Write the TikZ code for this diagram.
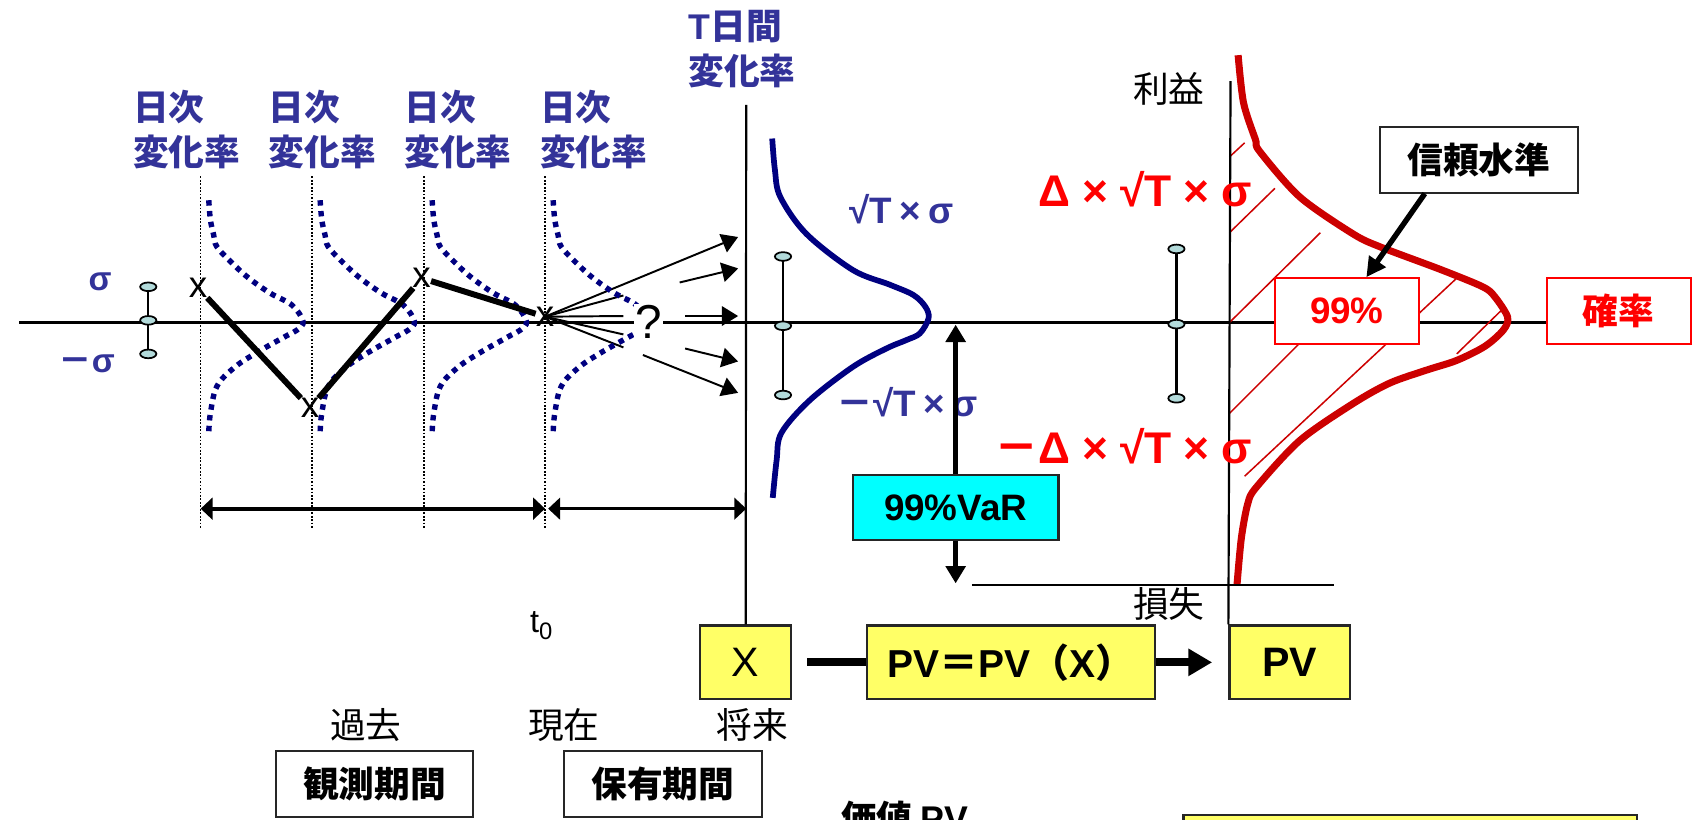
\documentclass[tikz,border=0pt]{standalone}
\usepackage{fontspec}
\setmainfont{Liberation Sans}
\newfontfamily\lat{Liberation Sans}
\newfontfamily\jp{Noto Sans CJK JP}
\usetikzlibrary{arrows.meta}

\definecolor{lblblue}{RGB}{51,51,153}
\definecolor{bellnavy}{RGB}{0,0,128}
\definecolor{bellred}{RGB}{204,0,0}
\definecolor{boxyellow}{RGB}{255,255,102}
\definecolor{boxcyan}{RGB}{0,255,255}
\definecolor{dotfill}{RGB}{178,218,218}

\newcommand{\sz}[1]{\fontsize{#1}{#1}\selectfont}
\newcommand{\tms}[1][7pt]{\hspace{#1}×\hspace{#1}}

\tikzset{
  vdot/.style={black, line width=1.3pt, dash pattern=on 1.6pt off 1.6pt},
  vline/.style={black, line width=2pt},
  dotbell/.style={bellnavy, line width=5pt, dash pattern=on 5pt off 5pt},
  bell/.style={bellnavy, line width=5.3pt},
  redbell/.style={bellred, line width=6.5pt, line join=round},
  hatch/.style={bellred, line width=1.4pt},
  zig/.style={black, line width=5.5pt},
  fanline/.style={black, line width=1.8pt},
  fan/.style={fanline, -{Triangle[length=15pt,width=18pt]}},
  dblthick/.style={black, line width=4pt, {Triangle[length=11pt,width=20pt]}-{Triangle[length=11pt,width=20pt]}},
  dblthin/.style={black, line width=2.2pt, {Triangle[length=11pt,width=20pt]}-{Triangle[length=11pt,width=20pt]}},
  vararrow/.style={black, line width=4.3pt, -{Triangle[length=16pt,width=18pt]}},
  tarrow/.style={black, line width=5pt, -{Triangle[length=18pt,width=18pt]}},
  link/.style={black, line width=7.5pt},
  linkar/.style={black, line width=7.5pt, -{Triangle[length=22pt,width=24pt]}},
  ebline/.style={black, line width=2pt},
  ebdot/.style={draw=black, fill=dotfill, line width=1.6pt},
  bluelbl/.style={text=lblblue, inner sep=0pt, font=\jp\bfseries\fontsize{33}{41.5}\selectfont},
  blueml/.style={text=lblblue, inner sep=0pt, font=\lat\bfseries\sz{34}},
  redml/.style={text=red, inner sep=0pt, font=\lat\bfseries\sz{41}},
  blk/.style={inner sep=0pt, font=\jp\sz{33}},
  xmark/.style={inner sep=0pt, font=\lat\sz{34}},
  ybox/.style={draw=black!85, line width=2pt, fill=boxyellow, minimum height=68pt, inner sep=0pt},
  wbox/.style={draw=black!85, line width=1.8pt, fill=white, minimum height=61pt, inner sep=0pt, font=\jp\bfseries\sz{33}},
  rbox/.style={draw=red, line width=1.8pt, fill=white, minimum width=133pt, minimum height=61pt, inner sep=0pt, text=red},
  vbox/.style={draw=black!85, line width=2pt, fill=boxcyan, minimum width=190pt, minimum height=60pt, inner sep=0pt, font=\lat\bfseries\sz{34}},
  qmark/.style={fill=white, inner sep=1pt, font=\lat\sz{44}},
}

\begin{document}
\begin{tikzpicture}[x=1pt,y=-1pt]
    \useasboundingbox (0,0) rectangle (1568,757);

    % ===== 下段の箱（縦線の終点） =====
    \node[ybox, minimum width=84pt, font=\lat\sz{38}] (xb) at (689,612) {X};
    \node[ybox, minimum width=266pt, font=\lat\bfseries\sz{36}] (pvf) at (934,612) {PV{\jp ＝}PV{\jp （}X{\jp ）}};
    \node[ybox, minimum width=111pt, font=\lat\bfseries\sz{38}] (pv) at (1191.5,612) {PV};
    \draw[link, shorten <=14pt] (xb) -- (pvf);
    \draw[linkar, shorten >=15pt] (pvf) -- (pv);

    % ===== 観測期間：点線の縦線 =====
    \foreach \x in {185.4,288.3,391.8,503.6}
        \draw[vdot] (\x,163) -- (\x,489);

    % 横軸
    \coordinate (axl) at (18,298);
    \coordinate (axr) at (1429,298);
    \draw[vline] (axl) -- (axr);

    % ===== 日次変化の軌跡 =====
    \node[xmark] (x1) at (183,266) {x};
    \node[xmark] (x2) at (286.5,377) {x};
    \node[xmark] (x3) at (389.6,257) {x};
    \node[xmark] (x4) at (503.6,292.6) {x};

    % 保有期間への分岐（矢印）
    \coordinate (f1) at (682,219);
    \coordinate (f2) at (682,248);
    \coordinate (f3) at (682,292);
    \coordinate (f4) at (682,334);
    \coordinate (f5) at (682,363);
    \coordinate (g2) at (576,273);
    \coordinate (g3) at (576,292);
    \coordinate (g4) at (576,309);
    \coordinate (g5) at (576,321);
    \coordinate (h2) at (628,261);
    \coordinate (h3) at (633,292);
    \coordinate (h4) at (633,322);
    \coordinate (h5) at (594,328);
    \draw[fan] (x4.center) -- (f1);
    \foreach \i in {2,...,5} {
        \draw[fanline] (x4.center) -- (g\i);
        \draw[fan] (h\i) -- (f\i);
    }

    % 日次の分布（点線）
    \foreach \b in {192.4,295.3,398.8,510.6}
        \draw[dotbell, shift={(\b,298)}] plot[smooth, tension=0.6] coordinates {
            (0.5,-113) (2,-95) (5,-81) (8,-70) (22,-55) (37.5,-41) (57.5,-27)
            (77.5,-16) (87.6,-1) (82,7) (71,13) (43.6,28.5) (23.6,42) (8,59)
            (2,84) (0.5,102)};
    \node[qmark] (qm) at (599,297) {?};

    \draw[zig] (x1) -- (x2);
    \draw[zig] (x2) -- (x3);
    \draw[zig] (x3) -- (x4);

    % ===== σ の幅 =====
    \foreach \x/\a/\b/\c in {137/265/296/327, 723.5/237/301/365, 1087/230/299.5/368} {
        \draw[ebline] (\x,\a) -- (\x,\c);
        \foreach \y in {\a,\b,\c}
            \filldraw[ebdot] (\x,\y) ellipse (7.5pt and 4pt);
    }
    \node[blueml, font=\lat\bfseries\sz{31}] (sig) at (92.6,260) {σ};
    \node[blueml, font=\lat\bfseries\sz{31}] (msig) at (80,336.5) {{\jp －}σ};

    % ===== 上部ラベル =====
    \foreach \x in {122.7,248,373.5,499}
        \node[bluelbl, anchor=north west, align=left] at (\x,83) {日次\\変化率};
    \node[bluelbl, anchor=north west, align=left] (tlbl) at (636,9) {{\lat T}日間\\変化率};

    % ===== 期間の矢印 =====
    \coordinate (d1) at (185.4,470);
    \coordinate (d2) at (503.6,470);
    \coordinate (d3) at (506.5,470);
    \coordinate (d4) at (689.5,470);
    \draw[dblthick] (d1) -- (d2);
    \draw[dblthin] (d3) -- (d4);

    \node[xmark, font=\lat\sz{30}] (t0) at (500,578) {t\raisebox{-7pt}{\sz{22}0}};
    \node[blk] (past) at (338,670) {過去};
    \node[blk] (now) at (521,670) {現在};
    \node[blk] (future) at (695,670) {将来};
    \node[wbox, minimum width=182pt] (obs) at (346,724.5) {観測期間};
    \node[wbox, minimum width=183pt] (hold) at (612.5,724.5) {保有期間};

    % ===== T日間の分布 =====
    \coordinate (ttop) at (689.5,97);
    \draw[vline] (ttop) -- (xb.north);
    \draw[bell] plot[smooth, tension=0.55] coordinates {
        (713.5,128) (716,157) (721,182) (745,216) (788,249.5) (822,263)
        (844,272.6) (855,283.4) (858,294) (850,308) (838,314) (819,322)
        (788,339) (748,370) (722,400) (717.6,425) (714,460)};
    \node[blueml] (sqt) at (833,193) {√T\tms σ};
    \node[blueml] (msqt) at (838,372) {{\jp －}√T\tms σ};

    % 99%VaR
    \node[vbox] (var) at (883,469) {99\%VaR};
    \coordinate (varup) at (883,300);
    \coordinate (vardn) at (883,539);
    \draw[vararrow] (var.north) -- (varup);
    \draw[vararrow] (var.south) -- (vardn);

    % ===== 損益の分布 =====
    \foreach \a/\b/\c/\d in {1136/145/1150/132, 1136/215/1178/174, 1136/298/1220/215,
                             1136/382/1261/257, 1150/440/1346/257, 1346/327/1388/286}
        \draw[hatch] (\a,\b) -- (\c,\d);
    \draw[redbell] plot[smooth, tension=0.5] coordinates {
        (1144,51) (1149,95) (1160,129) (1164,140) (1201,182) (1250,216)
        (1275,228) (1331,249) (1370,265) (1381,274) (1393,293) (1389,305)
        (1372,320) (1346,333) (1318,342) (1284,354) (1250,373) (1201,407)
        (1161,450) (1153,465) (1147,497) (1143,540)};
    \coordinate (pltop) at (1137,75);
    \draw[vline] (pltop) -- (pv.north west);
    \draw[vline] (898,540.5) -- (1233,540.5);
    \node[blk] (gain) at (1080,82) {利益};
    \node[blk] (loss) at (1080,558) {損失};

    \node[redml, anchor=east] (dsig) at (1157,175) {Δ\tms[11pt]√T\tms[11pt]σ};
    \node[redml, anchor=east] (mdsig) at (1157,412) {{\jp －}Δ\tms[11pt]√T\tms[11pt]σ};

    \node[rbox, font=\lat\bfseries\sz{34}] (pct) at (1244.5,287.5) {99\%};
    \node[rbox, font=\jp\bfseries\sz{33}] (prob) at (1495.5,287.5) {確率};
    \node[wbox, minimum width=183pt] (trust) at (1366.5,147.5) {信頼水準};
    \draw[tarrow] ([xshift=-50pt]trust.south) -- ([xshift=18pt]pct.north);

    % ===== 下端（切れている部分） =====
    \node[inner sep=0pt, anchor=north west, font=\jp\bfseries\sz{33}] (val) at (777,740) {価値 {\lat PV}};
    \draw[draw=black!85, line width=2pt, fill=boxyellow] (1093.5,753) rectangle (1512.3,800);
\end{tikzpicture}
\end{document}
